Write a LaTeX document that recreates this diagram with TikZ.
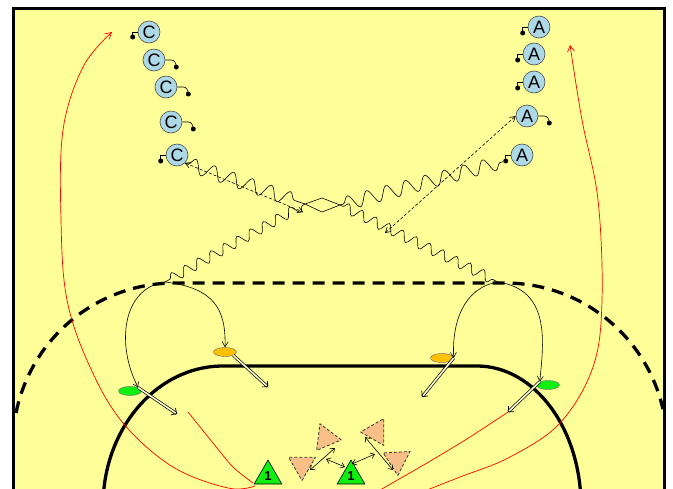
\documentclass[tikz,border=0pt]{standalone}
\usepackage{fontspec}
\setmainfont{Liberation Sans}
\usetikzlibrary{arrows.meta,positioning,shapes.geometric,decorations.pathmorphing,calc}
\definecolor{court}{HTML}{FFFF99}
\definecolor{shirt}{HTML}{ADD8E6}
\definecolor{cone}{HTML}{F8C088}
\definecolor{goalie}{HTML}{10F010}
\definecolor{amber}{HTML}{FFC000}

\begin{document}
\begin{tikzpicture}[
  x=1pt,y=-1pt,
  font=\fontsize{18}{18}\selectfont,
  player/.style={circle,draw=black!70,fill=shirt,minimum size=22pt,inner sep=0pt,line width=0.6pt},
  ball/.style={circle,fill=black,inner sep=0pt,minimum size=5pt},
  hook/.style={line width=0.6pt},
  dribble/.style={decorate,decoration={snake,segment length=20pt,amplitude=7pt,pre length=3pt,post length=3pt},line width=0.6pt},
  dribblelow/.style={dribble,decoration={segment length=15pt,amplitude=5pt}},
  pass/.style={dash pattern=on 3pt off 2pt,line width=0.6pt,
               {Straight Barb[length=5pt,width=6pt]}-{Straight Barb[length=5pt,width=6pt]}},
  run/.style={line width=0.6pt,-{Straight Barb[length=5pt,width=6pt]}},
  spot/.style={ellipse,draw=black!60,line width=0.4pt,minimum width=23pt,minimum height=9pt,inner sep=0pt},
  push/.style={double=court!40!white,double distance=1.6pt,line width=0.7pt,-{Straight Barb[length=4pt,width=8pt]}},
  block/.style={regular polygon,regular polygon sides=3,draw=black!80,dash pattern=on 3pt off 2pt,line width=0.8pt,
                fill=cone,minimum size=31pt,inner sep=0pt},
  keeper/.style={regular polygon,regular polygon sides=3,draw=black,fill=goalie,minimum size=32pt,inner sep=0pt,
                 line width=0.6pt,font=\fontsize{13}{13}\selectfont\bfseries},
  link/.style={line width=0.6pt,{Straight Barb[length=4pt,width=6pt]}-{Straight Barb[length=4pt,width=6pt]}},
  redrun/.style={red,line width=0.7pt},
]
\useasboundingbox (0,0) rectangle (673,488);
\clip (0,0) rectangle (673,488);

% ---- Court
\fill[court] (13,8) rectangle (665,500);

% ---- 9 m line and 6 m line
\draw[line width=3.3pt,dash pattern=on 12pt off 8pt]
  (16,413) arc[start angle=168.6,end angle=90,radius=162pt] -- (505,283)
  arc[start angle=90,end angle=12.8,radius=162pt];
\draw[line width=3.3pt]
  (103,506) arc[start angle=180,end angle=90,x radius=120pt,y radius=140pt] -- (477,366)
  arc[start angle=90,end angle=0,x radius=104pt,y radius=140pt];

% ---- Players C
\node[player] (c1) at (149,32)  {C};
\node[player] (c2) at (154,60)  {C};
\node[player] (c3) at (166,87)  {C};
\node[player] (c4) at (171,122) {C};
\node[player] (c5) at (177,155) {C};
\draw[hook] (c1.west) -- ++(-5,0) -- ++(0,5) node[ball] (bc1) {};
\draw[hook] (c2.east) -- ++(6,0) to[out=0,in=90] ++(5,7) node[ball] (bc2) {};
\draw[hook] (c3.east) -- ++(6,0) to[out=0,in=90] ++(5,7) node[ball] (bc3) {};
\draw[hook] (c4.east) -- ++(6,0) to[out=0,in=90] ++(5,7) node[ball] (bc4) {};
\draw[hook] (c5.west) -- ++(-5,0) -- ++(0,6) node[ball] (bc5) {};

% ---- Players A
\node[player] (a1) at (539,27)  {A};
\node[player] (a2) at (534,54)  {A};
\node[player] (a3) at (534,82)  {A};
\node[player] (a4) at (527,116) {A};
\node[player] (a5) at (522,155) {A};
\draw[hook] (a1.west) -- ++(-5,0) -- ++(0,6) node[ball] (ba1) {};
\draw[hook] (a2.west) -- ++(-5,0) -- ++(0,6) node[ball] (ba2) {};
\draw[hook] (a3.west) -- ++(-5,0) -- ++(0,6) node[ball] (ba3) {};
\draw[hook] (a4.east) -- ++(6,0) to[out=0,in=90] ++(5,7) node[ball] (ba4) {};
\draw[hook] (a5.west) -- ++(-5,0) -- ++(0,6) node[ball] (ba5) {};

% ---- Dribbles crossing
\coordinate (midc) at (305,204);
\coordinate (mida) at (340,205);
\coordinate (dl) at (165,282);
\coordinate (dr) at (498,282);
\draw[dribble] (c5.south east) -- (midc);
\draw[line width=0.6pt] (midc) -- (322,212) -- (mida) -- (322,198) -- cycle;
\draw[dribblelow] (mida) -- (dr);
\draw[dribble] (ba5) -- (mida);
\draw[dribblelow] (midc) -- (dl);

% ---- Passes
\coordinate (pc) at (303,212);
\coordinate (pa) at (385,233);
\draw[pass] (c5.south east) -- (pc);
\draw[pass] (pa) -- (a4.west);

% ---- Back court players
\node[spot,fill=goalie] (gl)  at (130,391) {};
\node[spot,fill=amber]  (ol)  at (225,352) {};
\node[spot,fill=amber]  (ol2) at (442,358) {};
\node[spot,fill=goalie] (gl2) at (548,385) {};

\draw[run] (dl) .. controls (122,288) and (116,345) .. (gl.north east);
\draw[run] (dl) .. controls (215,288) and (226,310) .. (ol.north);
\draw[run] (dr) .. controls (462,288) and (452,325) .. (ol2.east);
\draw[run] (dr) .. controls (550,290) and (544,340) .. (gl2.north west);

\coordinate (tg1) at (177,414);
\coordinate (to1) at (268,387);
\coordinate (to2) at (422,397);
\coordinate (tg2) at (508,412);
\draw[push] (gl.north east)  -- (tg1);
\draw[push] (ol.south east)  -- (to1);
\draw[push] (ol2.east)       -- (to2);
\draw[push] (gl2.north west) -- (tg2);

% ---- Defenders
\node[block,rotate=180] (t1) at (302,465) {};
\node[block,rotate=-97] (t2) at (326,438) {};
\node[block,rotate=90]  (t3) at (376,432) {};
\node[block,rotate=183] (t4) at (397,460) {};
\node[keeper] (g1) at (268,476) {1};
\node[keeper] (g2) at (351,476) {1};

\coordinate (k1) at (310,470); \coordinate (k2) at (335,448);
\coordinate (k3) at (326,459); \coordinate (k4) at (345,467);
\coordinate (k5) at (352,464); \coordinate (k6) at (375,454);
\coordinate (k7) at (365,437); \coordinate (k8) at (393,470);
\draw[link] (k1) -- (k2);
\draw[link] (k3) -- (k4);
\draw[link] (k5) -- (k6);
\draw[link] (k7) -- (k8);

% ---- Runs of the wings
\draw[redrun,-{Straight Barb[length=6pt,width=7pt]}] plot[smooth,tension=0.6] coordinates
  {(255,486) (228,488) (173,467) (123,423) (90,367) (67,300) (61,220) (63,130) (83,67) (112,32)};
\draw[redrun] plot[smooth] coordinates {(253,483) (233,467) (213,443) (188,412)};
\draw[redrun] plot[smooth] coordinates {(380,490) (427,463) (470,437) (tg2)};
\draw[redrun,-{Straight Barb[length=6pt,width=7pt]}] plot[smooth,tension=0.6] coordinates
  {(427,490) (460,477) (510,457) (560,423) (593,367) (602,300) (598,200) (582,120) (570,45)};

% ---- Border
\draw[line width=3pt] (13.5,500) -- (13.5,8) -- (664.5,8) -- (664.5,500);

\end{tikzpicture}
\end{document}
